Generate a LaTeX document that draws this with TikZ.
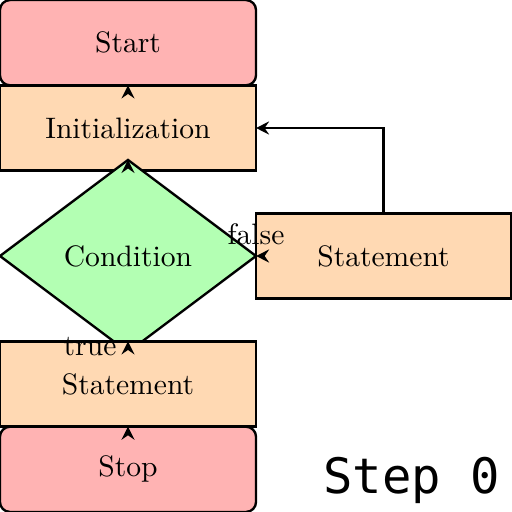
\documentclass[tikz,border=0pt]{standalone}
\usepackage{fontspec}
\newfontfamily\stepfont{DejaVu Sans Mono}
\usetikzlibrary{shapes.geometric,arrows.meta}
\definecolor{boxpink}{RGB}{255,179,179}
\definecolor{boxpeach}{RGB}{255,217,179}
\definecolor{boxgreen}{RGB}{179,255,179}
\tikzset{
  base/.style={draw=black, line width=0.8pt, inner sep=0pt, outer sep=0pt, font=\normalsize},
  termbox/.style={base, rectangle, rounded corners=3.4pt, fill=boxpink, minimum width=86.5pt, minimum height=28.8pt},
  procbox/.style={base, rectangle, fill=boxpeach, minimum width=86.5pt, minimum height=28.8pt},
  decbox/.style={base, diamond, fill=boxgreen, minimum width=86.5pt, minimum height=64.9pt},
  arr/.style={line width=0.8pt, -{Stealth[length=4.4pt,width=4.4pt,inset=1.5pt]}},
  lbl/.style={inner sep=0pt, font=\normalsize}
}
\begin{document}
\begin{tikzpicture}[x=0.3378pt, y=-0.3378pt]
\useasboundingbox (0,0) rectangle (512,512);
\node[termbox] (start) at (128,42.67) {Start};
\node[procbox] (init) at (128,128) {Initialization};
\node[decbox] (cond) at (128,256) {Condition};
\node[procbox, minimum width=86.1pt] (stmtR) at (383.5,256) {Statement};
\node[procbox] (stmt) at (128,384) {Statement};
\node[termbox] (stop) at (128,469.33) {Stop};
% arrows
\draw[arr] ([yshift=-0.6pt]init.north) -- (init.north);
\draw[arr] ([yshift=-0.6pt]cond.north) -- (cond.north);
\draw[arr] ([yshift=-0.6pt]stmt.north) -- (stmt.north);
\draw[arr] ([xshift=0.6pt]stmtR.west) -- (stmtR.west);
\draw[arr] (stmtR.north) |- (init.east);
\draw[arr] ([yshift=-0.6pt]stop.north) -- (stop.north);
\node[lbl, anchor=base] (lfalse) at (256,244) {false};
\node[lbl, anchor=base east] (ltrue) at (117,355) {true};
\node[inner sep=0pt, anchor=base west, font={\stepfont\fontsize{16.5pt}{20pt}\selectfont}] (step) at (323,493) {Step 0};
\end{tikzpicture}
\end{document}
